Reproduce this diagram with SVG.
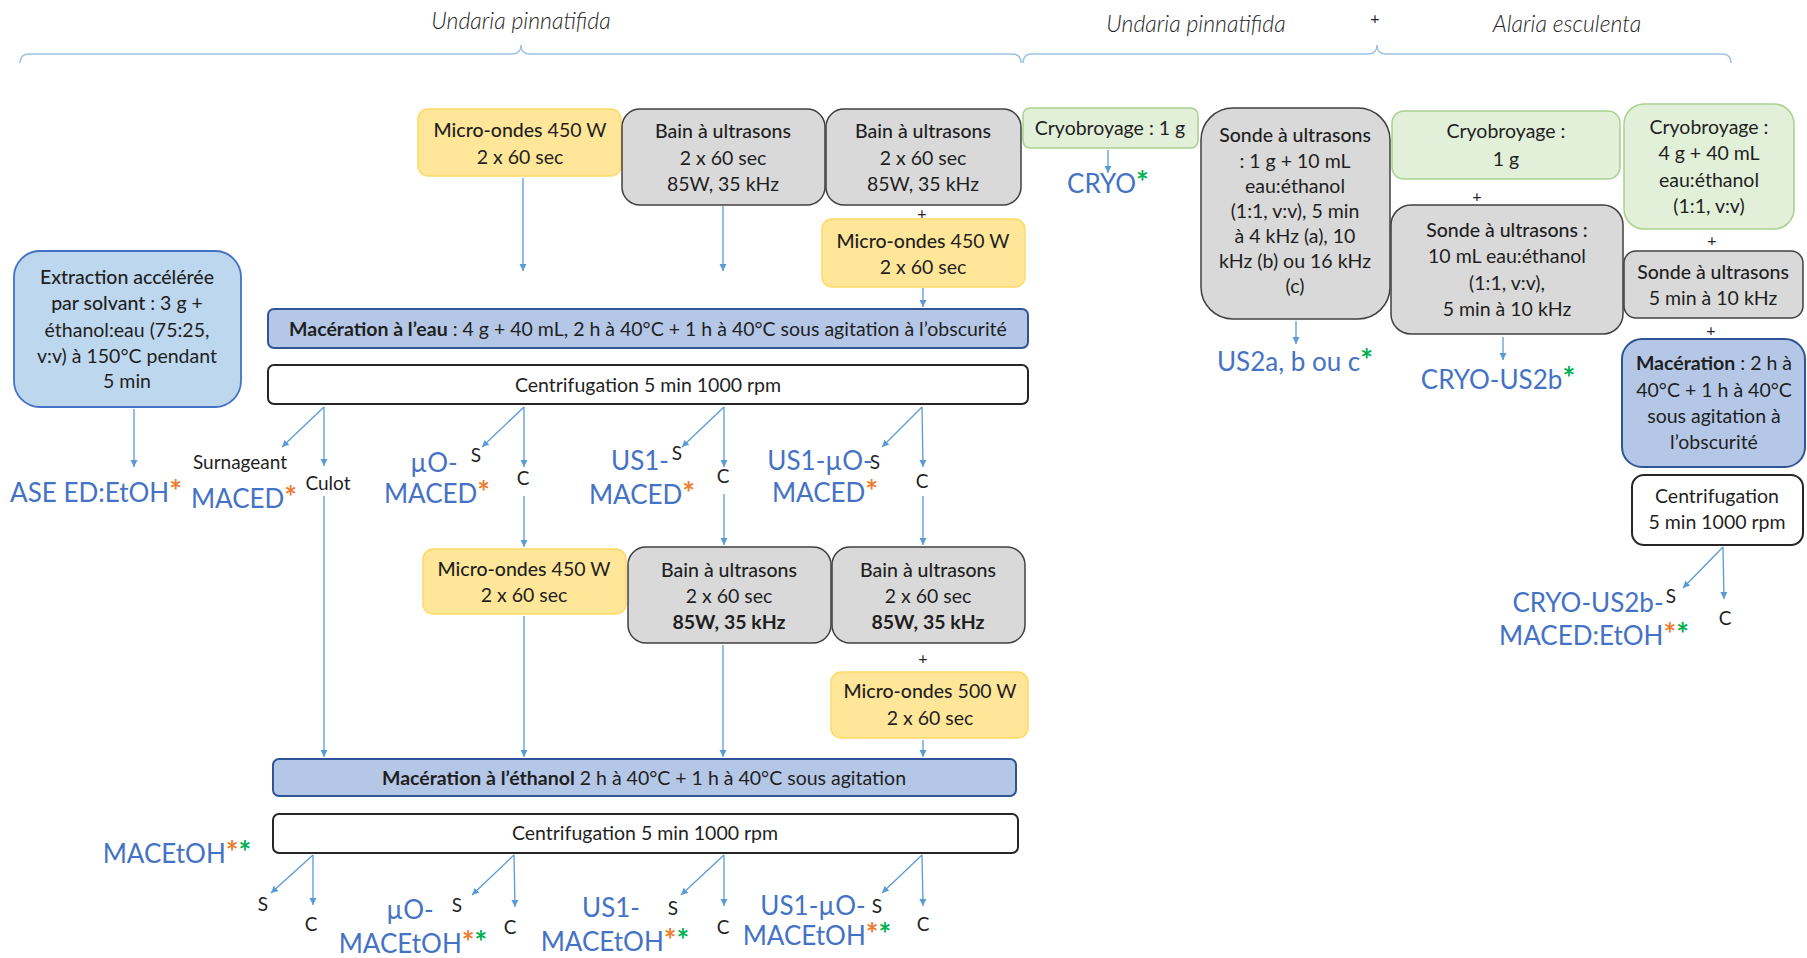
<svg xmlns="http://www.w3.org/2000/svg" width="1807" height="958" viewBox="0 0 1807 958">
<defs>
<marker id="ah" markerUnits="userSpaceOnUse" markerWidth="8" markerHeight="8" refX="7" refY="4" orient="auto"><path d="M0,0.5 L7,4 L0,7.5 z" fill="#5B9BD5"/></marker>
<style>
text{font-family:Lato,"Open Sans","Liberation Sans",sans-serif;fill:#1F1F1F}
.t{font-size:19.5px;text-anchor:middle}
.b{font-weight:700}
.sb{font-weight:500}
.hd{font-size:23px;font-style:italic;font-weight:300;text-anchor:middle;fill:#262626}
.pl{font-size:16px;text-anchor:middle;fill:#262626}
.lb{font-size:26px;fill:#4472C4;text-anchor:middle}
.sm{font-size:19px;text-anchor:middle}
.o{fill:#ED7D31;font-weight:700;font-size:30px}
.g{fill:#00B050;font-weight:700;font-size:30px}
.yel{fill:#FFE699;stroke:#FFD966;stroke-width:1.5}
.gry{fill:#D9D9D9;stroke:#404040;stroke-width:1.5}
.grn{fill:#E2F0D9;stroke:#A9D18E;stroke-width:1.5}
.lbl{fill:#BDD7EE;stroke:#4472C4;stroke-width:1.8}
.mac{fill:#B4C7E7;stroke:#2F5597;stroke-width:2}
.cen{fill:#FFFFFF;stroke:#262626;stroke-width:2}
.c{fill:none;stroke:#5B9BD5;stroke-width:1.3;marker-end:url(#ah)}
.br{fill:none;stroke:#9DC3E6;stroke-width:1.5}
</style>
</defs>

<g id="header">
<path class="br" d="M20,63 Q20,54 29,54 L512,54 Q521,54 521,45 Q521,54 530,54 L1012,54 Q1021,54 1021,63"/>
<path class="br" d="M1023,63 Q1023,54 1032,54 L1368,54 Q1377,54 1377,45 Q1377,54 1386,54 L1722,54 Q1731,54 1731,63"/>
<text class="hd" x="521" y="29">Undaria pinnatifida</text>
<text class="hd" x="1196" y="32">Undaria pinnatifida</text>
<text class="pl" x="1375" y="24">+</text>
<text class="hd" x="1567" y="32">Alaria esculenta</text>
</g>

<g id="connectors">
<line class="c" x1="134" y1="409" x2="134" y2="467"/>
<line class="c" x1="523" y1="178" x2="523" y2="271"/>
<line class="c" x1="723" y1="206" x2="723" y2="271"/>
<line class="c" x1="923" y1="288" x2="923" y2="307"/>
<line class="c" x1="1108" y1="150" x2="1108" y2="173"/>
<line class="c" x1="1296" y1="321" x2="1296" y2="344"/>
<line class="c" x1="1503" y1="337" x2="1503" y2="360"/>
<line class="c" x1="324" y1="407" x2="282" y2="447"/>
<line class="c" x1="324" y1="407" x2="324" y2="466"/>
<line class="c" x1="524" y1="407" x2="482" y2="447"/>
<line class="c" x1="524" y1="407" x2="524" y2="467"/>
<line class="c" x1="724" y1="407" x2="682" y2="447"/>
<line class="c" x1="724" y1="407" x2="724" y2="467"/>
<line class="c" x1="922" y1="407" x2="882" y2="447"/>
<line class="c" x1="922" y1="407" x2="923" y2="467"/>
<line class="c" x1="324" y1="496" x2="324" y2="757"/>
<line class="c" x1="524" y1="496" x2="524" y2="547"/>
<line class="c" x1="724" y1="494" x2="724" y2="545"/>
<line class="c" x1="923" y1="496" x2="923" y2="545"/>
<line class="c" x1="524" y1="616" x2="524" y2="757"/>
<line class="c" x1="723" y1="645" x2="723" y2="757"/>
<line class="c" x1="923" y1="740" x2="923" y2="757"/>
<line class="c" x1="313" y1="855" x2="271" y2="893"/>
<line class="c" x1="313" y1="855" x2="313" y2="905"/>
<line class="c" x1="514" y1="855" x2="472" y2="895"/>
<line class="c" x1="514" y1="855" x2="515" y2="907"/>
<line class="c" x1="724" y1="855" x2="681" y2="895"/>
<line class="c" x1="724" y1="855" x2="724" y2="906"/>
<line class="c" x1="922" y1="855" x2="882" y2="893"/>
<line class="c" x1="922" y1="855" x2="923" y2="906"/>
<line class="c" x1="1723" y1="547" x2="1683" y2="588"/>
<line class="c" x1="1723" y1="547" x2="1724" y2="599"/>
</g>

<g id="n-ase">
<rect class="lbl" x="14" y="251" width="227" height="156" rx="26"/>
<text class="t" x="127" y="284"><tspan class="sb">Extraction accélérée</tspan></text>
<text class="t" x="127" y="310"><tspan class="sb">par solvant</tspan> : 3 g +</text>
<text class="t" x="127" y="337">éthanol:eau (75:25,</text>
<text class="t" x="127" y="363">v:v) à 150°C pendant</text>
<text class="t" x="127" y="388">5 min</text>
</g>

<g id="n-mo1">
<rect class="yel" x="418" y="109" width="203" height="67" rx="10"/>
<text class="t" x="520" y="137"><tspan class="sb">Micro-ondes</tspan> 450 W</text>
<text class="t" x="520" y="164">2 x 60 sec</text>
</g>
<g id="n-us1">
<rect class="gry" x="622" y="109" width="203" height="96" rx="18"/>
<text class="t sb" x="723" y="138">Bain à ultrasons</text>
<text class="t" x="723" y="165">2 x 60 sec</text>
<text class="t" x="723" y="191">85W, 35 kHz</text>
</g>
<g id="n-us1b">
<rect class="gry" x="826" y="109" width="195" height="96" rx="18"/>
<text class="t sb" x="923" y="138">Bain à ultrasons</text>
<text class="t" x="923" y="165">2 x 60 sec</text>
<text class="t" x="923" y="191">85W, 35 kHz</text>
</g>
<text class="pl" x="922" y="219">+</text>
<g id="n-mo2">
<rect class="yel" x="822" y="219" width="203" height="68" rx="10"/>
<text class="t" x="923" y="248"><tspan class="sb">Micro-ondes</tspan> 450 W</text>
<text class="t" x="923" y="274">2 x 60 sec</text>
</g>

<g id="n-cryo">
<rect class="grn" x="1023" y="108" width="175" height="40" rx="7"/>
<text class="t" x="1110" y="135">Cryobroyage : 1 g</text>
</g>
<g id="n-sonde">
<rect class="gry" x="1201" y="108" width="189" height="211" rx="32"/>
<text class="t sb" x="1295" y="142">Sonde à ultrasons</text>
<text class="t" x="1295" y="168">: 1 g + 10 mL</text>
<text class="t" x="1295" y="193">eau:éthanol</text>
<text class="t" x="1295" y="218">(1:1, v:v), 5 min</text>
<text class="t" x="1295" y="243">à 4 kHz (a), 10</text>
<text class="t" x="1295" y="268">kHz (b) ou 16 kHz</text>
<text class="t" x="1295" y="293">(c)</text>
</g>
<g id="n-cryo2">
<rect class="grn" x="1392" y="111" width="228" height="68" rx="12"/>
<text class="t" x="1506" y="138">Cryobroyage :</text>
<text class="t" x="1506" y="166">1 g</text>
</g>
<text class="pl" x="1477" y="202">+</text>
<g id="n-sonde2">
<rect class="gry" x="1391" y="205" width="232" height="129" rx="20"/>
<text class="t sb" x="1507" y="237">Sonde à ultrasons :</text>
<text class="t" x="1507" y="263">10 mL eau:éthanol</text>
<text class="t" x="1507" y="290">(1:1, v:v),</text>
<text class="t" x="1507" y="316">5 min à 10 kHz</text>
</g>
<g id="n-cryo3">
<rect class="grn" x="1624" y="104" width="170" height="125" rx="20"/>
<text class="t" x="1709" y="134">Cryobroyage :</text>
<text class="t" x="1709" y="160">4 g + 40 mL</text>
<text class="t" x="1709" y="187">eau:éthanol</text>
<text class="t" x="1709" y="213">(1:1, v:v)</text>
</g>
<text class="pl" x="1712" y="246">+</text>
<g id="n-sonde3">
<rect class="gry" x="1624" y="251" width="179" height="67" rx="12"/>
<text class="t sb" x="1713" y="279">Sonde à ultrasons</text>
<text class="t" x="1713" y="305">5 min à 10 kHz</text>
</g>
<text class="pl" x="1711" y="336">+</text>
<g id="n-mac3">
<rect class="mac" x="1622" y="339" width="183" height="128" rx="20"/>
<text class="t" x="1714" y="370"><tspan class="b">Macération</tspan> : 2 h à</text>
<text class="t" x="1714" y="397">40°C + 1 h à 40°C</text>
<text class="t" x="1714" y="423">sous agitation à</text>
<text class="t" x="1714" y="449">l’obscurité</text>
</g>
<g id="n-cen3">
<rect class="cen" x="1632" y="475" width="171" height="70" rx="12"/>
<text class="t" x="1717" y="503">Centrifugation</text>
<text class="t" x="1717" y="529">5 min 1000 rpm</text>
</g>

<g id="n-maceau">
<rect class="mac" x="268" y="309" width="760" height="39" rx="6"/>
<text class="t" x="648" y="336"><tspan class="b">Macération à l’eau</tspan> : 4 g + 40 mL, 2 h à 40°C + 1 h à 40°C sous agitation à l’obscurité</text>
</g>
<g id="n-cen1">
<rect class="cen" x="268" y="365" width="760" height="39" rx="6"/>
<text class="t" x="648" y="392">Centrifugation 5 min 1000 rpm</text>
</g>

<g id="n-mo3">
<rect class="yel" x="423" y="549" width="203" height="65" rx="10"/>
<text class="t" x="524" y="576"><tspan class="sb">Micro-ondes</tspan> 450 W</text>
<text class="t" x="524" y="602">2 x 60 sec</text>
</g>
<g id="n-us3">
<rect class="gry" x="628" y="547" width="203" height="96" rx="18"/>
<text class="t sb" x="729" y="577">Bain à ultrasons</text>
<text class="t" x="729" y="603">2 x 60 sec</text>
<text class="t b" x="729" y="629">85W, 35 kHz</text>
</g>
<g id="n-us4">
<rect class="gry" x="832" y="547" width="193" height="96" rx="18"/>
<text class="t sb" x="928" y="577">Bain à ultrasons</text>
<text class="t" x="928" y="603">2 x 60 sec</text>
<text class="t b" x="928" y="629">85W, 35 kHz</text>
</g>
<text class="pl" x="923" y="664">+</text>
<g id="n-mo4">
<rect class="yel" x="831" y="672" width="197" height="66" rx="10"/>
<text class="t" x="930" y="698"><tspan class="sb">Micro-ondes</tspan> 500 W</text>
<text class="t" x="930" y="725">2 x 60 sec</text>
</g>

<g id="n-maceth">
<rect class="mac" x="273" y="759" width="743" height="37" rx="6"/>
<text class="t" x="644" y="785"><tspan class="b">Macération à l’éthanol</tspan> 2 h à 40°C + 1 h à 40°C sous agitation</text>
</g>
<g id="n-cen2">
<rect class="cen" x="273" y="814" width="745" height="39" rx="6"/>
<text class="t" x="645" y="840">Centrifugation 5 min 1000 rpm</text>
</g>

<g id="labels">
<text class="lb" x="96" y="502">ASE ED:EtOH<tspan class="o">*</tspan></text>
<text class="lb" x="1108" y="193">CRYO<tspan class="g">*</tspan></text>
<text class="lb" x="1295" y="371">US2a, b ou c<tspan class="g">*</tspan></text>
<text class="lb" x="1498" y="389">CRYO-US2b<tspan class="g">*</tspan></text>

<text class="sm" x="240" y="469">Surnageant</text>
<text class="lb" x="244" y="508">MACED<tspan class="o">*</tspan></text>
<text class="sm" x="328" y="490">Culot</text>

<text class="lb" x="434" y="472">µO-</text>
<text class="sm" x="476" y="462">S</text>
<text class="sm" x="523" y="485">C</text>
<text class="lb" x="437" y="503">MACED<tspan class="o">*</tspan></text>

<text class="lb" x="640" y="470">US1-</text>
<text class="sm" x="677" y="460">S</text>
<text class="sm" x="723" y="483">C</text>
<text class="lb" x="642" y="504">MACED<tspan class="o">*</tspan></text>

<text class="lb" x="820" y="470">US1-µO-</text>
<text class="sm" x="875" y="469">S</text>
<text class="sm" x="922" y="488">C</text>
<text class="lb" x="825" y="502">MACED<tspan class="o">*</tspan></text>

<text class="lb" x="177" y="863">MACEtOH<tspan class="o">*</tspan><tspan class="g">*</tspan></text>
<text class="sm" x="263" y="911">S</text>
<text class="sm" x="311" y="931">C</text>

<text class="lb" x="410" y="919">µO-</text>
<text class="sm" x="457" y="912">S</text>
<text class="sm" x="510" y="934">C</text>
<text class="lb" x="413" y="953">MACEtOH<tspan class="o">*</tspan><tspan class="g">*</tspan></text>

<text class="lb" x="611" y="917">US1-</text>
<text class="sm" x="673" y="915">S</text>
<text class="sm" x="723" y="934">C</text>
<text class="lb" x="615" y="951">MACEtOH<tspan class="o">*</tspan><tspan class="g">*</tspan></text>

<text class="lb" x="813" y="915">US1-µO-</text>
<text class="sm" x="877" y="913">S</text>
<text class="sm" x="923" y="931">C</text>
<text class="lb" x="817" y="945">MACEtOH<tspan class="o">*</tspan><tspan class="g">*</tspan></text>

<text class="lb" x="1588" y="612">CRYO-US2b-</text>
<text class="sm" x="1671" y="603">S</text>
<text class="sm" x="1725" y="625">C</text>
<text class="lb" x="1594" y="645">MACED:EtOH<tspan class="o">*</tspan><tspan class="g">*</tspan></text>
</g>
</svg>
